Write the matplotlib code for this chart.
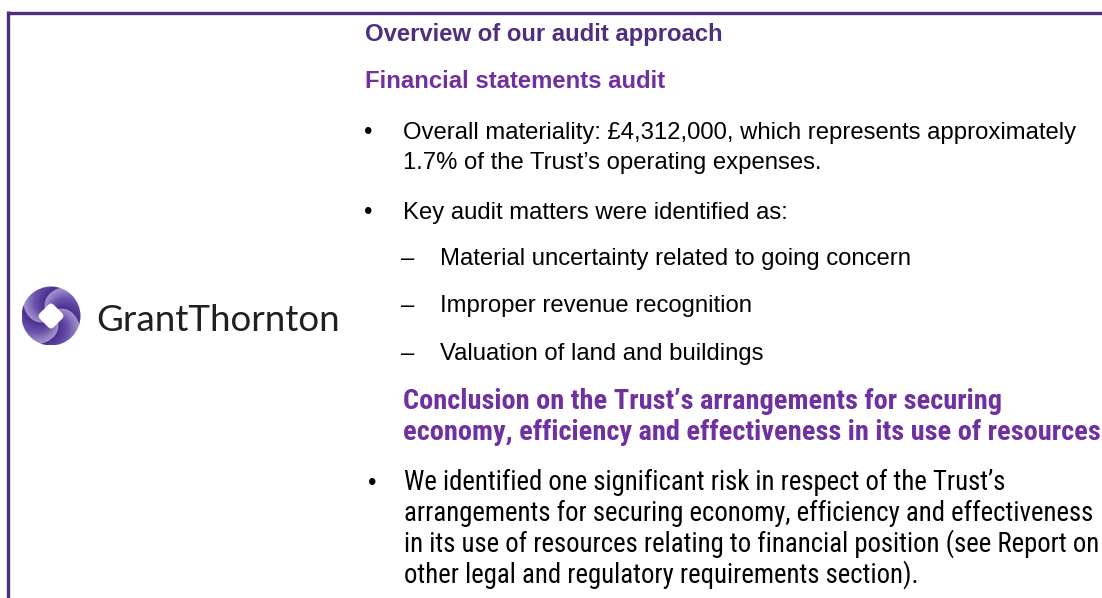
import numpy as np
import matplotlib
matplotlib.use("Agg")
import matplotlib.pyplot as plt
from matplotlib import font_manager as fm
from matplotlib.colors import LinearSegmentedColormap
from matplotlib.patches import Circle, Polygon

# ===== 1. Nội dung văn bản =====
heading_main = "Overview of our audit approach"
heading_fs = "Financial statements audit"
bullet_materiality = ["Overall materiality: £4,312,000, which represents approximately",
                      "1.7% of the Trust’s operating expenses."]
bullet_kam = "Key audit matters were identified as:"
kam_items = ["Material uncertainty related to going concern",
             "Improper revenue recognition",
             "Valuation of land and buildings"]
heading_vfm = ["Conclusion on the Trust’s arrangements for securing",
               "economy, efficiency and effectiveness in its use of resources"]
bullet_vfm = ["We identified one significant risk in respect of the Trust’s",
              "arrangements for securing economy, efficiency and effectiveness",
              "in its use of resources relating to financial position (see Report on",
              "other legal and regulatory requirements section)."]
logo_text = "GrantThornton"

# ===== 2. Màu & font =====
gt_purple = "#4F2D7F"
light_purple = "#7030A0"
body = "Liberation Sans"
fs = 17.2

names = {f.name for f in fm.fontManager.ttflist}
narrow = next((n for n in ["Liberation Sans Narrow", "Arial Narrow", "Roboto Condensed",
                           "Open Sans Condensed"] if n in names), None)
narrow_kw = {"family": narrow} if narrow else {"family": body, "fontstretch": "condensed"}

# ===== 3. Khung hình =====
fig = plt.figure(figsize=(11.02, 5.98), dpi=100)
ax = fig.add_axes([0, 0, 1, 1])
ax.set_xlim(0, 1102)
ax.set_ylim(598, 0)
ax.axis("off")

# viền tím
ax.plot([8.3, 1102], [12.5, 12.5], color=gt_purple, lw=2.4, solid_capstyle="butt")
ax.plot([8.3, 8.3], [11, 598], color=gt_purple, lw=2.4, solid_capstyle="butt")

# ===== 4. Logo =====
cx, cy, r = 51, 316, 29.5
n = 300
xs = np.linspace(cx - r, cx + r, n)
ys = np.linspace(cy - r, cy + r, n)
X, Y = np.meshgrid(xs, ys)
theta = np.arctan2(Y - cy, X - cx)
rad = np.hypot(X - cx, Y - cy) / r
val = ((theta + 1.6 * rad + 0.3) % (np.pi / 2)) / (np.pi / 2)
cmap = LinearSegmentedColormap.from_list("gt", ["#4A2D8C", "#6A52AC", "#A596CF"])
img = ax.imshow(val, cmap=cmap, extent=(cx - r, cx + r, cy + r, cy - r),
                origin="lower", aspect="auto", zorder=2, interpolation="bilinear")
circ = Circle((cx, cy), r, transform=ax.transData, facecolor="none", edgecolor="none")
ax.add_patch(circ)
img.set_clip_path(circ)
d = 9
ax.add_patch(Polygon([(cx, cy - d), (cx + d, cy), (cx, cy + d), (cx - d, cy)],
                     closed=True, facecolor="white", edgecolor="white", lw=5,
                     joinstyle="round", zorder=3))
ax.set_xlim(0, 1102)
ax.set_ylim(598, 0)

ax.text(96, 331, logo_text, family="Lato", fontsize=26.5, color="#231F20", va="baseline")

# ===== 5. Phần kiểm toán BCTC =====
ax.text(365, 40.5, heading_main, family=body, weight="bold", fontsize=fs,
        color=gt_purple, va="baseline")
ax.text(365, 88.5, heading_fs, family=body, weight="bold", fontsize=fs,
        color=light_purple, va="baseline")

y_mat = [139, 169]
ax.text(368, y_mat[0], "•", family=body, fontsize=fs, va="baseline", ha="center")
for yy, line in zip(y_mat, bullet_materiality):
    ax.text(403, yy, line, family=body, fontsize=fs, color="black", va="baseline")

ax.text(368, 219, "•", family=body, fontsize=fs, va="baseline", ha="center")
ax.text(403, 219, bullet_kam, family=body, fontsize=fs, color="black", va="baseline")

y_kam = [265, 312, 360]
for yy, item in zip(y_kam, kam_items):
    ax.text(408, yy, "–", family=body, fontsize=fs, va="baseline", ha="center")
    ax.text(440, yy, item, family=body, fontsize=fs, color="black", va="baseline")

# ===== 6. Phần kết luận VFM (chữ hẹp) =====
y_head = [409, 440]
for yy, line in zip(y_head, heading_vfm):
    ax.text(403, yy, line, weight="bold", fontsize=20.4, color=light_purple,
            va="baseline", **narrow_kw)

y_vfm = [490, 521, 552, 583]
ax.text(372, y_vfm[0], "•", family=body, fontsize=fs, va="baseline", ha="center")
for yy, line in zip(y_vfm, bullet_vfm):
    ax.text(404, yy, line, fontsize=19.3, color="black", va="baseline", **narrow_kw)

plt.savefig("out.png", dpi=100)
